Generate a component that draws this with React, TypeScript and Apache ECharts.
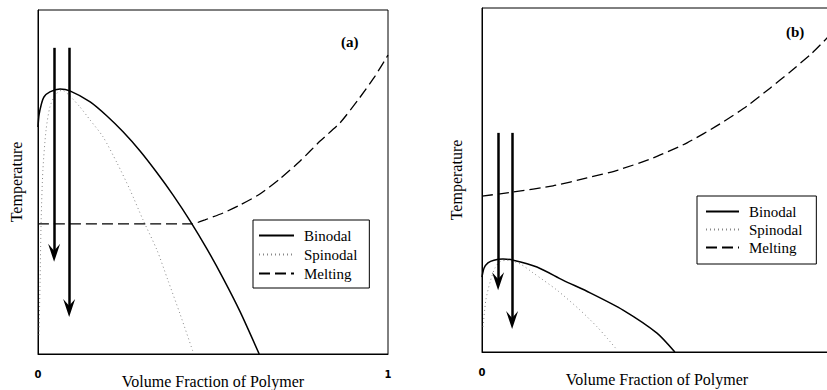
import React, { useEffect, useRef } from "react";
import * as echarts from "echarts";

// Panel (a): volume fraction vs. (relative) temperature
const binodalA: [number, number][] = [
  [0, 0.66], [0.003, 0.695], [0.009, 0.724], [0.017, 0.747], [0.034, 0.762], [0.063, 0.77],
  [0.091, 0.765], [0.149, 0.733], [0.197, 0.692], [0.243, 0.646], [0.291, 0.591], [0.34, 0.527],
  [0.386, 0.462], [0.434, 0.388], [0.483, 0.305], [0.529, 0.22], [0.577, 0.124], [0.632, 0],
];
const spinodalA: [number, number][] = [
  [0.003, 0.055], [0.006, 0.215], [0.009, 0.39], [0.014, 0.535], [0.023, 0.651], [0.034, 0.718],
  [0.049, 0.753], [0.069, 0.767], [0.091, 0.75], [0.12, 0.718], [0.149, 0.68], [0.186, 0.631],
  [0.226, 0.555], [0.263, 0.477], [0.3, 0.39], [0.34, 0.302], [0.371, 0.215], [0.406, 0.116], [0.443, 0.006],
];
const meltingA: [number, number][] = [
  [0, 0.378], [0.44, 0.378], [0.477, 0.39], [0.529, 0.41], [0.577, 0.433], [0.634, 0.465],
  [0.691, 0.509], [0.749, 0.561], [0.806, 0.619], [0.863, 0.672], [0.914, 0.738], [0.963, 0.808], [1, 0.869],
];
// Panel (b)
const binodalB: [number, number][] = [
  [0, 0.218], [0.006, 0.244], [0.017, 0.259], [0.034, 0.267], [0.06, 0.27], [0.089, 0.267],
  [0.157, 0.247], [0.231, 0.209], [0.309, 0.172], [0.403, 0.122], [0.5, 0.055], [0.551, 0],
];
const spinodalB: [number, number][] = [
  [0.003, 0.073], [0.011, 0.151], [0.023, 0.203], [0.037, 0.244], [0.051, 0.262], [0.071, 0.267],
  [0.109, 0.256], [0.146, 0.23], [0.214, 0.18], [0.28, 0.122], [0.329, 0.073], [0.357, 0.041], [0.386, 0.006],
];
const meltingB: [number, number][] = [
  [0, 0.453], [0.089, 0.465], [0.203, 0.483], [0.3, 0.506], [0.389, 0.529], [0.489, 0.564],
  [0.586, 0.608], [0.68, 0.663], [0.757, 0.715], [0.823, 0.767], [0.88, 0.814], [0.943, 0.869], [0.986, 0.913], [1, 0.93],
];
// Quench arrows: [x, yStart, yEnd]
const arrowsA: [number, number, number][] = [[0.046, 0.89, 0.294], [0.089, 0.89, 0.134]];
const arrowsB: [number, number, number][] = [[0.046, 0.637, 0.206], [0.086, 0.637, 0.093]];

const seriesNames = ["Binodal", "Spinodal", "Melting"];
const xTickLabels = ["0", "1"];
const xTitle = "Volume Fraction of Polymer";
const yTitle = "Temperature";
const panelLabels = ["(a)", "(b)"];

const SERIF = "Liberation Serif";

export default function App() {
  const ref = useRef<HTMLDivElement>(null);
  useEffect(() => {
    if (!ref.current) return;
    const chart = echarts.init(ref.current, undefined, { renderer: "svg" });

    const xAxis = (gi: number) => ({
      type: "value",
      gridIndex: gi,
      min: 0,
      max: 1,
      interval: 1,
      axisLine: { show: true, lineStyle: { color: "#000", width: 1 } },
      axisTick: { show: false },
      splitLine: { show: false },
      axisLabel: {
        color: "#000",
        fontFamily: "DejaVu Sans",
        fontWeight: "bold",
        fontSize: 10,
        margin: 15,
        showMaxLabel: gi === 0,
        formatter: (v: number) => xTickLabels[v === 0 ? 0 : 1],
      },
      name: xTitle,
      nameLocation: "middle",
      nameGap: 27,
      nameMoveOverlap: false,
      nameTextStyle: { color: "#000", fontFamily: SERIF, fontSize: 16, verticalAlign: "middle" },
    });
    const yAxis = (gi: number, gap: number) => ({
      type: "value",
      gridIndex: gi,
      min: 0,
      max: 1,
      axisLine: { show: true, lineStyle: { color: "#000", width: 1 } },
      axisTick: { show: false },
      splitLine: { show: false },
      axisLabel: { show: false },
      name: yTitle,
      nameLocation: "middle",
      nameGap: gap,
      nameMoveOverlap: false,
      nameTextStyle: { color: "#000", fontFamily: SERIF, fontSize: 16 },
    });

    const curves = (gi: number, b: any, s: any, m: any) => [
      {
        type: "line", name: seriesNames[0], xAxisIndex: gi, yAxisIndex: gi, data: b,
        symbol: "none", smooth: 0.25,
        lineStyle: { color: "#000", width: 1.5, type: "solid" }, itemStyle: { color: "#000" },
      },
      {
        type: "line", name: seriesNames[1], xAxisIndex: gi, yAxisIndex: gi, data: s,
        symbol: "none", smooth: 0.25,
        lineStyle: { color: "#888", width: 1, type: [1, 3] }, itemStyle: { color: "#888" },
      },
      {
        type: "line", name: seriesNames[2], xAxisIndex: gi, yAxisIndex: gi, data: m,
        symbol: "none", smooth: 0.2,
        lineStyle: { color: "#000", width: 1.3, type: [11, 5] }, itemStyle: { color: "#000" },
      },
      {
        type: "line", name: "arrows" + gi, xAxisIndex: gi, yAxisIndex: gi, data: [],
        markLine: {
          silent: true,
          animation: false,
          symbol: ["none", "path://M5,0 L10,13 L5,8 L0,13 Z"],
          symbolSize: [12, 18],
          label: { show: false },
          lineStyle: { color: "#000", width: 2.5, type: "solid" },
          data: (gi === 0 ? arrowsA : arrowsB).map(([x, y0, y1]) => [
            { coord: [x, y0] },
            { coord: [x, y1] },
          ]),
        },
      },
    ];

    const legend = (left: number, top: number, pad: number[], gap: number, w: number) => ({
      data: seriesNames,
      orient: "vertical",
      left,
      top,
      padding: pad,
      itemGap: gap,
      itemWidth: w,
      itemHeight: 10,
      borderColor: "#000",
      borderWidth: 1,
      backgroundColor: "#fff",
      selectedMode: false,
      itemStyle: { opacity: 0, borderWidth: 0 },
      textStyle: { color: "#000", fontFamily: SERIF, fontSize: 15, padding: [0, 0, 0, 5] },
    });

    chart.setOption({
      animation: false,
      backgroundColor: "#fff",
      grid: [
        { left: 38, top: 10, width: 350, height: 344, show: true, borderColor: "#000", borderWidth: 1, outerBoundsMode: "none", containLabel: false },
        { left: 482, top: 8, width: 350, height: 344, show: true, borderColor: "#000", borderWidth: 1, outerBoundsMode: "none", containLabel: false },
      ],
      xAxis: [xAxis(0), xAxis(1)],
      yAxis: [yAxis(0, 14), yAxis(1, 18)],
      legend: [
        legend(253, 220, [8, 12, 7, 5], 4, 35),
        legend(697, 196, [8, 14, 9, 8], 3, 33),
      ],
      graphic: [
        { type: "text", left: 341, top: 34, style: { text: panelLabels[0], fontFamily: SERIF, fontSize: 15, fontWeight: "bold", fill: "#000" } },
        { type: "text", left: 786, top: 24, style: { text: panelLabels[1], fontFamily: SERIF, fontSize: 15, fontWeight: "bold", fill: "#000" } },
      ],
      series: [
        ...curves(0, binodalA, spinodalA, meltingA),
        ...curves(1, binodalB, spinodalB, meltingB),
      ],
    });
    return () => chart.dispose();
  }, []);
  return (
    <div
      ref={ref}
      style={{ position: "absolute", left: 0, top: 0, width: 827, height: 390, background: "#fff" }}
    />
  );
}
